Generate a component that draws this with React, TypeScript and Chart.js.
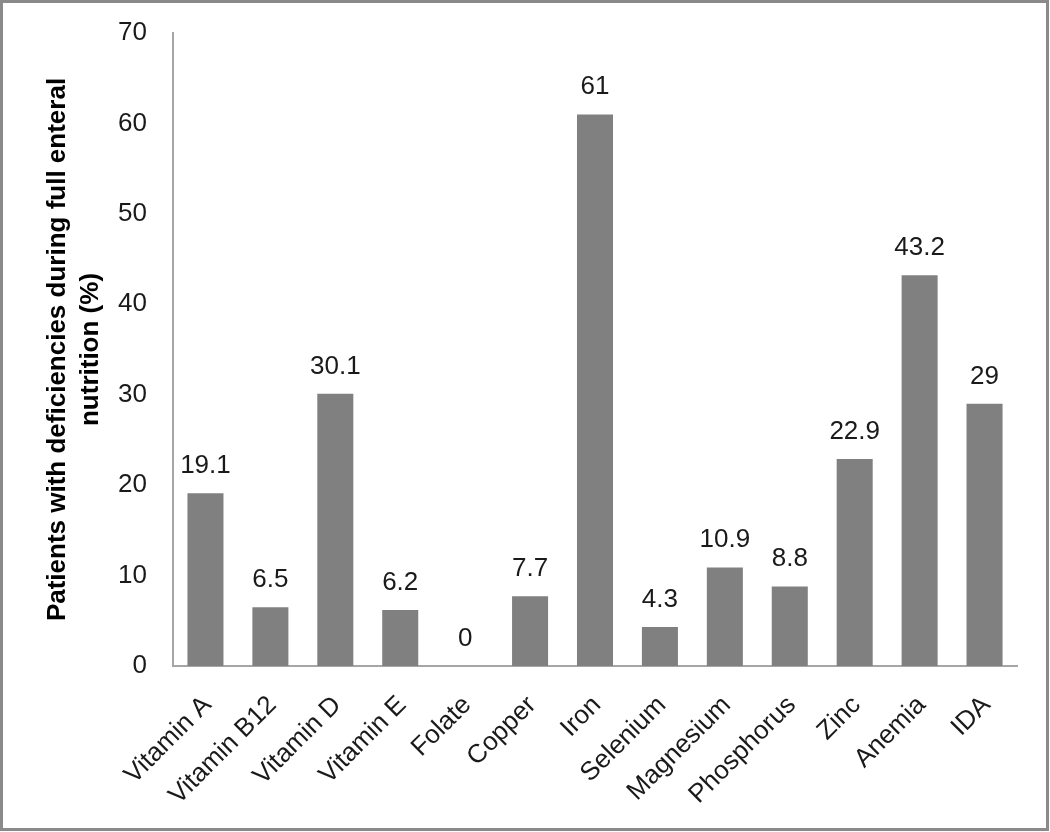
import React, { useEffect, useRef } from "react";
import { Chart, registerables } from "chart.js";

Chart.register(...registerables);

const categories = [
  "Vitamin A",
  "Vitamin B12",
  "Vitamin D",
  "Vitamin E",
  "Folate",
  "Copper",
  "Iron",
  "Selenium",
  "Magnesium",
  "Phosphorus",
  "Zinc",
  "Anemia",
  "IDA",
];

const deficiencyValues = [19.1, 6.5, 30.1, 6.2, 0, 7.7, 61, 4.3, 10.9, 8.8, 22.9, 43.2, 29];

const yTitleLines = ["Patients with deficiencies during full enteral", "nutrition (%)"];

const FONT = "'Liberation Sans', Arial, sans-serif";

const valueLabels = {
  id: "valueLabels",
  afterDatasetsDraw(chart: any) {
    const ctx = chart.ctx;
    const meta = chart.getDatasetMeta(0);
    ctx.save();
    ctx.font = `26px ${FONT}`;
    ctx.fillStyle = "#1a1a1a";
    ctx.textAlign = "center";
    ctx.textBaseline = "alphabetic";
    meta.data.forEach((bar: any, i: number) => {
      const v = chart.data.datasets[0].data[i];
      ctx.fillText(String(v), bar.x, bar.y - 20);
    });
    ctx.restore();
  },
};

export default function App() {
  const ref = useRef<HTMLCanvasElement>(null);

  useEffect(() => {
    if (!ref.current) return;
    const chart = new Chart(ref.current, {
      type: "bar",
      data: {
        labels: categories,
        datasets: [
          {
            data: deficiencyValues,
            backgroundColor: "#808080",
            borderWidth: 0,
            categoryPercentage: 1,
            barPercentage: 0.555,
          },
        ],
      },
      options: {
        animation: false,
        responsive: false,
        maintainAspectRatio: false,
        layout: { padding: { left: 41, top: 33, right: 33, bottom: 0 } },
        plugins: {
          legend: { display: false },
          tooltip: { enabled: false },
        },
        scales: {
          x: {
            grid: { display: false, drawTicks: false },
            border: { display: true, color: "#a6a6a6", width: 2 },
            ticks: {
              autoSkip: false,
              minRotation: 45,
              maxRotation: 45,
              padding: 24,
              labelOffset: 2,
              color: "#1a1a1a",
              font: { family: FONT, size: 26 },
            },
            afterFit(scale: any) {
              scale.height = 166;
            },
          },
          y: {
            min: 0,
            max: 70,
            grid: { display: false, drawTicks: false },
            border: { display: true, color: "#a6a6a6", width: 2 },
            ticks: {
              stepSize: 10,
              padding: 26,
              color: "#1a1a1a",
              font: { family: FONT, size: 26 },
            },
            title: {
              display: true,
              text: yTitleLines,
              color: "#000000",
              padding: { top: 0, bottom: 0 },
              font: { family: FONT, size: 26, weight: "bold", lineHeight: 1.27 },
            },
            afterFit(scale: any) {
              scale.width = 132;
              scale.paddingTop = 16;
              scale.paddingBottom = 16;
            },
          },
        },
      },
      plugins: [valueLabels],
    });
    return () => chart.destroy();
  }, []);

  return (
    <div style={{ position: "absolute", left: 0, top: 0, width: 1050, height: 832, background: "#ffffff" }}>
      <canvas ref={ref} width={1050} height={832} style={{ position: "absolute", left: 0, top: 0 }} />
      <div
        style={{
          position: "absolute",
          left: 0,
          top: 0,
          width: 1049,
          height: 831,
          boxSizing: "border-box",
          border: "3px solid #8a8a8a",
          pointerEvents: "none",
        }}
      />
    </div>
  );
}
